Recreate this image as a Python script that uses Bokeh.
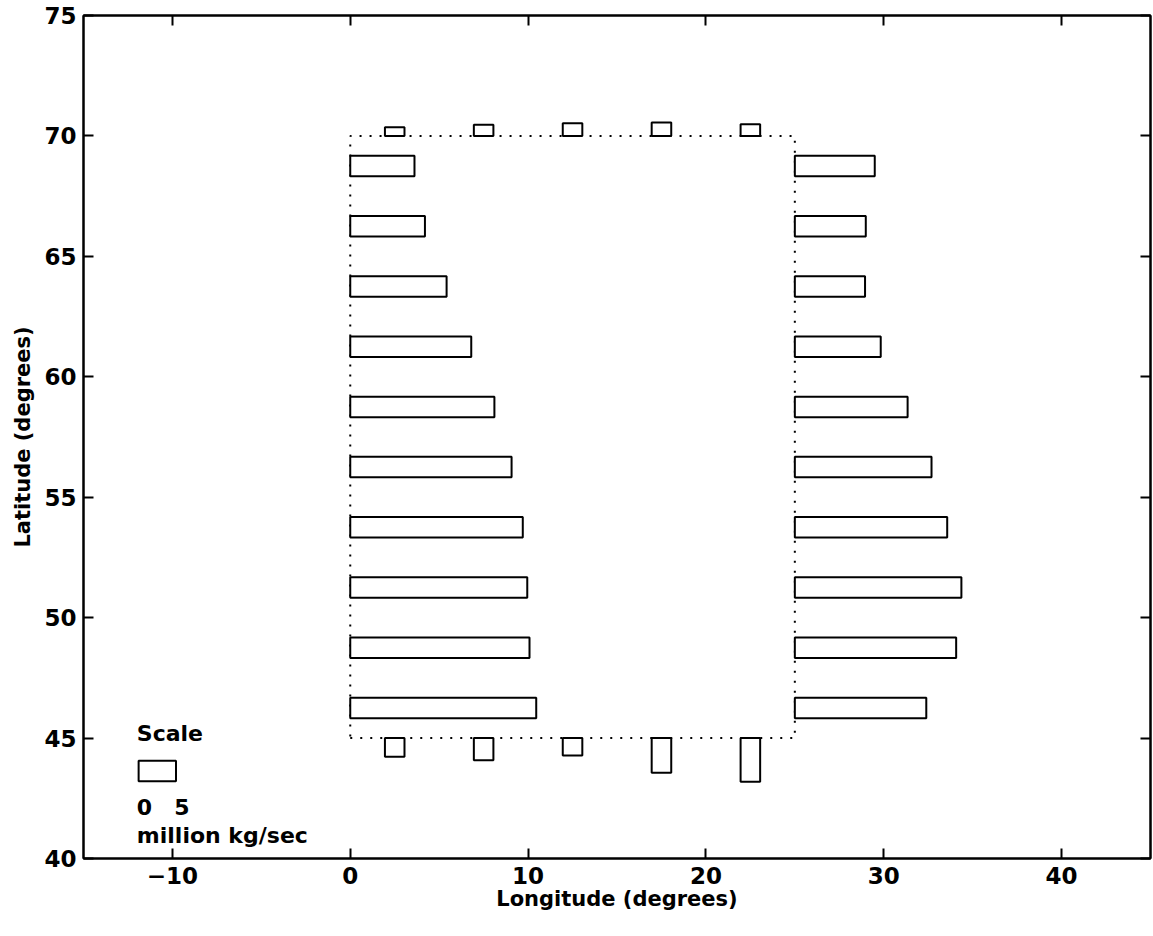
import math
from bokeh.plotting import figure
from bokeh.models import LinearAxis, FixedTicker, ColumnDataSource
from bokeh.core.properties import value
from bokeh.embed import file_html
from bokeh.resources import INLINE

# ---------------- data ----------------
# latitudes of the zonal transport bars (degrees N)
bar_lats = [46.25, 48.75, 51.25, 53.75, 56.25, 58.75, 61.25, 63.75, 66.25, 68.75]
# eastward transport across the western boundary (lon 0), million kg/sec
west_flux = [24.9, 24.0, 23.7, 23.1, 21.6, 19.3, 16.2, 12.9, 10.0, 8.6]
# eastward transport across the eastern boundary (lon 25), million kg/sec
east_flux = [17.6, 21.6, 22.3, 20.4, 18.3, 15.1, 11.5, 9.4, 9.5, 10.7]
# longitudes of the meridional transport bars (degrees E)
bar_lons = [2.5, 7.5, 12.5, 17.5, 22.5]
# northward transport across the northern boundary (lat 70), million kg/sec
north_flux = [1.16, 1.49, 1.70, 1.79, 1.57]
# northward transport across the southern boundary (lat 45), million kg/sec
south_flux = [-2.50, -2.96, -2.33, -4.65, -5.85]

box_lon = [0, 25]
box_lat = [45, 70]
scale_value = 5
scale_pos = [-11.9, 43.63]

x_ticks = [-10, 0, 10, 20, 30, 40]
y_ticks = [40, 45, 50, 55, 60, 65, 70, 75]

# drawing scales (degrees per million kg/sec) and bar thickness (degrees)
k_lon = 0.42
k_lat = 0.31
thick_lat = 0.85
thick_lon = 1.1

FONT = "DejaVu Sans"

p = figure(frame_width=1067, frame_height=843, x_range=(-15, 45), y_range=(40, 75),
           output_backend="svg", toolbar_location=None,
           min_border_left=83, min_border_top=15, min_border_right=3, min_border_bottom=66)
p.grid.visible = False
p.outline_line_color = "black"
p.outline_line_width = 2
p.background_fill_color = "white"
p.border_fill_color = "white"

def style_axis(ax, ticks, show_labels=True):
    ax.ticker = FixedTicker(ticks=ticks)
    ax.major_tick_in = 10
    ax.major_tick_out = 0
    ax.minor_tick_in = 0
    ax.minor_tick_out = 0
    ax.major_tick_line_width = 2
    ax.axis_line_width = 2
    ax.major_label_text_font = FONT
    ax.major_label_text_font_style = "bold"
    ax.major_label_text_font_size = "23px"
    ax.major_label_text_color = "black"
    ax.axis_label_text_font = FONT
    ax.axis_label_text_font_style = "bold"
    ax.axis_label_text_font_size = "21px"
    ax.axis_label_text_color = "black"
    if not show_labels:
        ax.major_label_overrides = {t: "" for t in ticks}
        ax.major_label_standoff = 0

xb = p.below[0]
yl = p.left[0]
style_axis(xb, x_ticks)
style_axis(yl, y_ticks)
xb.major_label_overrides = {t: (("\u2212" + str(-t)) if t < 0 else str(t)) for t in x_ticks}
xb.major_label_standoff = 8
yl.major_label_standoff = 7
xb.axis_label = "Longitude (degrees)"
yl.axis_label = "Latitude (degrees)"
xb.axis_label_standoff = 0
yl.axis_label_standoff = 6

top_ax = LinearAxis()
style_axis(top_ax, x_ticks, show_labels=False)
p.add_layout(top_ax, "above")
right_ax = LinearAxis()
style_axis(right_ax, y_ticks, show_labels=False)
p.add_layout(right_ax, "right")

# dotted control box
bx = [box_lon[0], box_lon[1], box_lon[1], box_lon[0], box_lon[0]]
by = [box_lat[0], box_lat[0], box_lat[1], box_lat[1], box_lat[0]]
p.line(bx, by, line_color="black", line_width=2, line_dash="2 8")

# transport bars
def hbars(lon0, fluxes):
    left = [min(lon0, lon0 + f * k_lon) for f in fluxes]
    right = [max(lon0, lon0 + f * k_lon) for f in fluxes]
    bottom = [la - thick_lat / 2 for la in bar_lats]
    top = [la + thick_lat / 2 for la in bar_lats]
    return ColumnDataSource(dict(left=left, right=right, bottom=bottom, top=top))

def vbars(lat0, fluxes):
    bottom = [min(lat0, lat0 + f * k_lat) for f in fluxes]
    top = [max(lat0, lat0 + f * k_lat) for f in fluxes]
    left = [lo - thick_lon / 2 for lo in bar_lons]
    right = [lo + thick_lon / 2 for lo in bar_lons]
    return ColumnDataSource(dict(left=left, right=right, bottom=bottom, top=top))

for src in [hbars(box_lon[0], west_flux), hbars(box_lon[1], east_flux),
            vbars(box_lat[1], north_flux), vbars(box_lat[0], south_flux)]:
    p.quad(left="left", right="right", bottom="bottom", top="top", source=src,
           fill_color="white", line_color="black", line_width=2)

# scale bar
sx0 = scale_pos[0]
sx1 = scale_pos[0] + scale_value * k_lon
p.quad(left=[sx0], right=[sx1], bottom=[scale_pos[1] - thick_lat / 2],
       top=[scale_pos[1] + thick_lat / 2], fill_color="white", line_color="black", line_width=2)

txt = dict(text_font=value(FONT), text_font_style="bold", text_font_size="22px",
           text_align="left", text_baseline="middle", text_color="black")
p.text(x=[sx0 - 0.1], y=[scale_pos[1] + 1.55], text=["Scale"], **txt)
p.text(x=[sx0 - 0.1, sx1 - 0.1], y=[scale_pos[1] - 1.48, scale_pos[1] - 1.48],
       text=["0", str(scale_value)], **txt)
p.text(x=[sx0 - 0.1], y=[scale_pos[1] - 2.68], text=["million kg/sec"], **txt)

open("out.html", "w").write(file_html(p, INLINE))
